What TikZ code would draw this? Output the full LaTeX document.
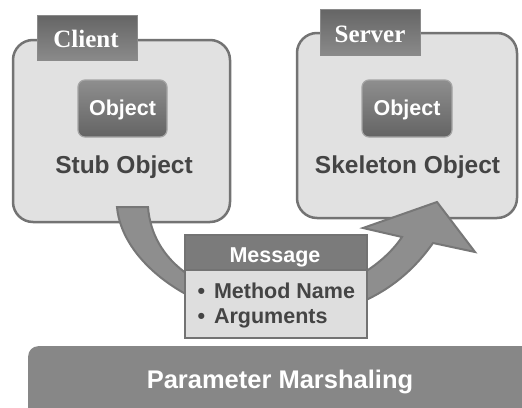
\documentclass[tikz,border=0pt]{standalone}
\usepackage{fontspec}
\setmainfont{Liberation Sans}
\newfontfamily\labelserif{Liberation Serif}
\definecolor{panelfill}{HTML}{E1E1E1}
\definecolor{panelline}{HTML}{737373}
\definecolor{tagdark}{HTML}{656565}
\definecolor{taglight}{HTML}{8A8A8A}
\definecolor{objtop}{HTML}{8E8E8E}
\definecolor{objbot}{HTML}{646464}
\definecolor{arrowfill}{HTML}{8E8E8E}
\definecolor{arrowline}{HTML}{777777}
\definecolor{headfill}{HTML}{7B7B7B}
\definecolor{bodyfill}{HTML}{DEDEDE}
\definecolor{barfill}{HTML}{878787}
\definecolor{darktext}{HTML}{444444}
\tikzset{
  panel/.style={draw=panelline, line width=2.5pt, fill=panelfill, rounded corners=20pt},
  tag/.style={draw=taglight, line width=1pt, top color=tagdark, bottom color=taglight},
  objbox/.style={draw=objtop!80!white, line width=1.2pt, top color=objtop, bottom color=objbot, rounded corners=7pt},
  whitesans/.style={text=white, font=\fontsize{21.5}{23}\selectfont\bfseries, anchor=base},
  caption/.style={text=darktext, font=\fontsize{24.5}{27}\selectfont\bfseries, anchor=base},
  tagtext/.style={text=white, font=\labelserif\fontsize{25}{27}\selectfont\bfseries, anchor=base},
  msgline/.style={draw=panelline, line width=2.5pt},
  bullettext/.style={text=darktext, font=\fontsize{21.5}{23}\selectfont\bfseries, anchor=base west}
}
\begin{document}
\begin{tikzpicture}[x=1pt,y=-1pt]
\useasboundingbox (0,0) rectangle (522,407);

% client and server panels
\node[panel, minimum width=217pt, minimum height=182pt] (client) at (121.5,131) {};
\node[panel, minimum width=220pt, minimum height=185pt] (server) at (407,125.5) {};

% panel tags
\node[tag, minimum width=100pt, minimum height=45pt] (clienttag) at (87,37.5) {};
\node[tagtext] at (86,47) {Client};
\node[tag, minimum width=100pt, minimum height=46pt] (servertag) at (370,32) {};
\node[tagtext] at (370,42) {Server};

% object boxes
\node[objbox, minimum width=89pt, minimum height=57pt] (cobj) at (122.5,108.5) {};
\node[whitesans] at (122.5,115.5) {Object};
\node[objbox, minimum width=90pt, minimum height=57pt] (sobj) at (407,108.5) {};
\node[whitesans] at (407,115.5) {Object};

% panel captions
\node[caption] (stub) at (124,173) {Stub Object};
\node[caption] (skel) at (407.5,173) {Skeleton Object};

% curved arrow from client to server
\draw[fill=arrowfill, draw=arrowline, line width=2pt, line join=miter]
  (117,207) .. controls (122,265) and (200,318) .. (276,318)
  .. controls (350,318) and (400,290) .. (433,243)
  -- (475,252) -- (437,202) -- (363,228) -- (402,237)
  .. controls (380,270) and (330,298) .. (276,298)
  .. controls (200,298) and (152,260) .. (148,207) -- cycle;

% message box
\node[msgline, fill=bodyfill, minimum width=182pt, minimum height=68pt] (msgbody) at (276,304) {};
\node[msgline, fill=headfill, minimum width=182pt, minimum height=35pt] (msghead) at (276,252.5) {};
\node[whitesans] at (275,262) {Message};
\node[bullettext] (m1) at (194,298) {•\hspace{9pt}Method Name};
\node[bullettext] (m2) at (194,323) {•\hspace{9pt}Arguments};

% bottom bar
\node[fill=barfill, rounded corners=10pt, minimum width=520pt, minimum height=75pt, anchor=north west] (bar) at (28,346) {};
\node[text=white, font=\fontsize{25.5}{27}\selectfont\bfseries, anchor=base] at (280,388) {Parameter Marshaling};
\end{tikzpicture}
\end{document}
